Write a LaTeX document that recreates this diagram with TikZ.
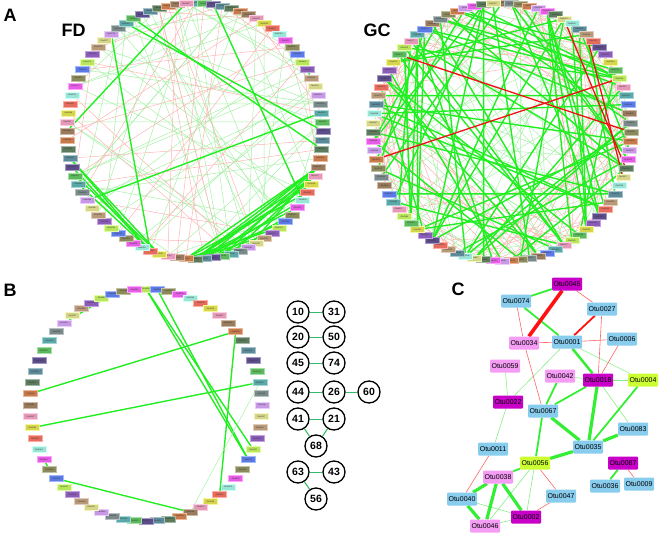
\documentclass[tikz,border=0pt]{standalone}
\usepackage{fontspec}
\setmainfont{Liberation Sans}
\usetikzlibrary{backgrounds}
\definecolor{thickg}{HTML}{22EE22}
\definecolor{thing}{HTML}{A8F0A8}
\definecolor{thinr}{HTML}{FFB4B4}
\definecolor{thickr}{HTML}{EE1111}
\definecolor{cblue}{HTML}{88CCEE}
\definecolor{cmag}{HTML}{C800C8}
\definecolor{cpink}{HTML}{F59CF5}
\definecolor{cyg}{HTML}{CCFF33}
\definecolor{numline}{HTML}{33BB66}
\definecolor{p0}{HTML}{FF66FF}
\definecolor{p1}{HTML}{CCFF66}
\definecolor{p2}{HTML}{EEEE99}
\definecolor{p3}{HTML}{66BBBB}
\definecolor{p4}{HTML}{6699AA}
\definecolor{p5}{HTML}{AA8866}
\definecolor{p6}{HTML}{FF7766}
\definecolor{p7}{HTML}{999966}
\definecolor{p8}{HTML}{9966CC}
\definecolor{p9}{HTML}{DDAAFF}
\definecolor{p10}{HTML}{66CC66}
\definecolor{p11}{HTML}{668866}
\definecolor{p12}{HTML}{FFAACC}
\definecolor{p13}{HTML}{AAFFEE}
\definecolor{p14}{HTML}{6688FF}
\definecolor{p15}{HTML}{CCAA88}
\definecolor{p16}{HTML}{889999}
\definecolor{p17}{HTML}{665599}
\definecolor{p18}{HTML}{DD8855}
\definecolor{p19}{HTML}{EEEE55}
\definecolor{HTMLg1}{HTML}{88EE88}
\definecolor{HTMLg2}{HTML}{33EE33}
\definecolor{HTMLr1}{HTML}{FF6666}
\definecolor{HTMLr2}{HTML}{FF1111}
\tikzset{
  otu/.style={draw=#1!60!white, fill=#1!90!black, line width=0.4pt, minimum width=14pt, minimum height=6pt,
    inner sep=0pt, font=\fontsize{2}{2}\selectfont, text=black!80},
  gthick/.style={draw=thickg, line width=1.4pt},
  gthin/.style={draw=thing, line width=0.5pt},
  rthin/.style={draw=thinr, line width=0.5pt},
  rthick/.style={draw=thickr, line width=1.3pt},
  panel/.style={font=\fontsize{18}{18}\selectfont\bfseries},
  cnode/.style={fill=#1, rounded corners=1pt, minimum width=30pt, minimum height=13pt, inner sep=1pt,
    font=\fontsize{7}{7}\selectfont, text=black},
  cg1/.style={draw=HTMLg1, line width=0.6pt},
  cg2/.style={draw=HTMLg2, line width=1.8pt},
  cg3/.style={draw=HTMLg2, line width=3.2pt},
  cr1/.style={draw=HTMLr1, line width=0.6pt},
  cr2/.style={draw=HTMLr2, line width=1.8pt},
  cr3/.style={draw=HTMLr2, line width=3.6pt},
  numc/.style={circle, draw=black, line width=1.3pt, minimum size=22pt, inner sep=0pt,
    font=\fontsize{10.5}{10.5}\selectfont\bfseries, fill=white},
  numl/.style={draw=numline, line width=1pt}
}
\newcommand\otulabel[1]{\ifnum#1<10 Otu000#1\else Otu00#1\fi}
\begin{document}
\begin{tikzpicture}[x=1pt,y=-1pt]
\useasboundingbox (0,0) rectangle (660,534);
% panel labels
\node[panel] (lA) at (10,15) {A};
\node[panel] (lFD) at (73.5,30) {FD};
\node[panel] (lGC) at (377,30) {GC};
\node[panel] (lB) at (10,290) {B};
\node[panel] (lC) at (458,289) {C};
% FD circle nodes
\foreach \i in {0,...,87} {
  \pgfmathsetmacro\px{195+128*cos(-90+\i/88*360)}
  \pgfmathsetmacro\py{131+128*sin(-90+\i/88*360)}
  \pgfmathtruncatemacro\ci{mod(\i*7+3,20)}
  \node[otu=p\ci] (fd\i) at (\px,\py) {\otulabel{\i}};
}
% GC circle nodes
\foreach \i in {0,...,87} {
  \pgfmathsetmacro\px{502+129*cos(-90+\i/88*360)}
  \pgfmathsetmacro\py{132+129*sin(-90+\i/88*360)}
  \pgfmathtruncatemacro\ci{mod(\i*11+5,20)}
  \node[otu=p\ci] (gc\i) at (\px,\py) {\otulabel{\i}};
}
% B circle nodes
\foreach \i in {0,...,63} {
  \pgfmathsetmacro\px{146+116*cos(-90+\i/64*360)}
  \pgfmathsetmacro\py{405+116*sin(-90+\i/64*360)}
  \pgfmathtruncatemacro\ci{mod(\i*13+1,20)}
  \node[otu=p\ci] (b\i) at (\px,\py) {\otulabel{\i}};
}
\begin{scope}[on background layer]
% FD thin edges
\pgfmathsetseed{11}
\foreach \k in {1,...,55} {
  \pgfmathrandominteger{\a}{0}{87}\pgfmathrandominteger{\d}{12}{76}
  \pgfmathtruncatemacro\b{mod(\a+\d,88)}
  \draw[gthin] (fd\a) -- (fd\b);
}
\foreach \k in {1,...,26} {
  \pgfmathrandominteger{\a}{0}{87}\pgfmathrandominteger{\d}{10}{78}
  \pgfmathtruncatemacro\b{mod(\a+\d,88)}
  \draw[rthin] (fd\a) -- (fd\b);
}
% FD thick edges
\foreach \a/\b in {87/66, 78/49, 80/22, 81/24, 2/30, 58/20,
  63/49, 62/49, 61/48, 60/49, 63/48,
  26/45, 26/44, 26/43, 27/44, 27/42, 26/41, 28/44, 29/45, 30/43,
  31/44, 33/44, 34/45, 35/44, 36/43, 27/40, 26/38, 32/42, 14/16}
  \draw[gthick] (fd\a) -- (fd\b);
% GC thin edges
\pgfmathsetseed{23}
\foreach \k in {1,...,70} {
  \pgfmathrandominteger{\a}{0}{87}\pgfmathrandominteger{\d}{8}{80}
  \pgfmathtruncatemacro\b{mod(\a+\d,88)}
  \draw[gthin] (gc\a) -- (gc\b);
}
\foreach \k in {1,...,75} {
  \pgfmathrandominteger{\a}{0}{87}\pgfmathrandominteger{\d}{4}{30}
  \pgfmathtruncatemacro\b{mod(\a+\d,88)}
  \draw[rthin] (gc\a) -- (gc\b);
}
% GC thick edges
\pgfmathsetseed{5}
\foreach \k in {1,...,72} {
  \pgfmathrandominteger{\a}{0}{87}\pgfmathrandominteger{\d}{15}{73}
  \pgfmathtruncatemacro\b{mod(\a+\d,88)}
  \draw[gthick] (gc\a) -- (gc\b);
}
\foreach \a/\b in {75/22, 63/16, 7/26, 10/27}
  \draw[rthick] (gc\a) -- (gc\b);
% B edges
\foreach \a/\b in {61/56, 0/20, 0/21, 1/21, 9/49, 9/25, 14/46, 41/28, 43/42}
  \draw[gthick] (b\a) -- (b\b);
\draw[gthin] (b14) -- (b28);
\end{scope}
% numbered circles
\node[numc] (n10) at (298,312) {10};
\node[numc] (n31) at (334,312) {31};
\node[numc] (n20) at (298,337) {20};
\node[numc] (n50) at (334,337) {50};
\node[numc] (n45) at (298,363) {45};
\node[numc] (n74) at (334,363) {74};
\node[numc] (n44) at (298,392) {44};
\node[numc] (n26) at (334,392) {26};
\node[numc] (n60) at (369,392) {60};
\node[numc] (n41) at (298,419) {41};
\node[numc] (n21) at (334,419) {21};
\node[numc] (n68) at (316,446) {68};
\node[numc] (n63) at (298,472) {63};
\node[numc] (n43) at (334,472) {43};
\node[numc] (n56) at (316,499) {56};
\begin{scope}[on background layer]
\foreach \a/\b in {10/31, 20/50, 45/74, 44/26, 26/60, 41/21, 41/68, 21/68, 63/43, 63/56}
  \draw[numl] (n\a) -- (n\b);
\end{scope}
% panel C nodes
\node[cnode=cmag]  (c0045) at (567,284) {Otu0045};
\node[cnode=cblue] (c0074) at (516,301) {Otu0074};
\node[cnode=cblue] (c0027) at (602,309) {Otu0027};
\node[cnode=cpink] (c0034) at (524,343) {Otu0034};
\node[cnode=cblue] (c0001) at (567,342) {Otu0001};
\node[cnode=cblue] (c0006) at (622,339) {Otu0006};
\node[cnode=cpink] (c0059) at (505,366) {Otu0059};
\node[cnode=cpink] (c0042) at (560,376) {Otu0042};
\node[cnode=cmag]  (c0018) at (598,380) {Otu0018};
\node[cnode=cyg]   (c0004) at (643,380) {Otu0004};
\node[cnode=cmag]  (c0022) at (508,402) {Otu0022};
\node[cnode=cblue] (c0067) at (543,411) {Otu0067};
\node[cnode=cblue] (c0083) at (633,429) {Otu0083};
\node[cnode=cblue] (c0035) at (588,447) {Otu0035};
\node[cnode=cblue] (c0011) at (493,449) {Otu0011};
\node[cnode=cyg]   (c0056) at (535,463) {Otu0056};
\node[cnode=cmag]  (c0087) at (623,463) {Otu0087};
\node[cnode=cpink] (c0038) at (498,477) {Otu0038};
\node[cnode=cblue] (c0036) at (605,486) {Otu0036};
\node[cnode=cblue] (c0009) at (639,484) {Otu0009};
\node[cnode=cblue] (c0047) at (561,496) {Otu0047};
\node[cnode=cblue] (c0040) at (462,499) {Otu0040};
\node[cnode=cmag]  (c0002) at (526,517) {Otu0002};
\node[cnode=cpink] (c0046) at (485,526) {Otu0046};
\begin{scope}[on background layer]
\foreach \a/\b in {0001/0004, 0001/0022, 0059/0022, 0042/0018, 0018/0004, 0018/0083, 0022/0011,
  0056/0046, 0056/0002, 0040/0002, 0046/0002}
  \draw[cg1] (c\a) -- (c\b);
\foreach \a/\b in {0045/0074, 0074/0001, 0042/0067, 0018/0067, 0067/0056, 0004/0035, 0056/0038, 0087/0036}
  \draw[cg2] (c\a) -- (c\b);
\draw[draw=HTMLg2, line width=2.5pt] (c0001) -- (c0018);
\foreach \a/\b in {0018/0035, 0067/0035, 0083/0035, 0035/0056, 0038/0040, 0038/0046, 0038/0002, 0040/0046}
  \draw[cg3] (c\a) -- (c\b);
\foreach \a/\b in {0045/0027, 0074/0034, 0027/0018, 0034/0001, 0034/0067, 0001/0006, 0006/0018,
  0011/0040, 0056/0047, 0087/0009, 0047/0002}
  \draw[cr1] (c\a) -- (c\b);
\draw[cr2] (c0027) -- (c0001);
\draw[cr3] (c0045) -- (c0034);
\end{scope}
\end{tikzpicture}
\end{document}
